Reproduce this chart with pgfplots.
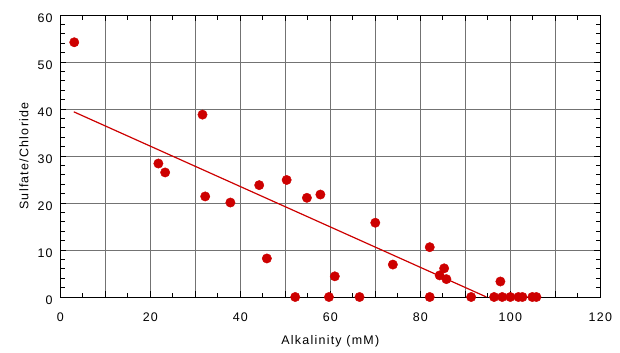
\documentclass[border=0pt]{standalone}
\usepackage{fontspec}
\setmainfont{Liberation Sans}[LetterSpace=10]
\usepackage{pgfplots}
\pgfplotsset{compat=1.18}
\definecolor{dotred}{RGB}{205,0,0}
\definecolor{gridgray}{RGB}{115,115,115}
\begin{document}
\begin{tikzpicture}
\begin{axis}[
  at={(0,0)}, anchor=south west,
  scale only axis, width=540bp, height=282bp,
  xmin=0, xmax=120, ymin=0, ymax=60,
  xtick={0,10,...,120},
  xticklabels={0,,20,,40,,60,,80,,100,,120},
  ytick={0,10,...,60},
  minor x tick num=1,
  minor y tick num=4,
  tick align=inside,
  major tick length=6bp,
  minor tick length=4.5bp,
  every tick/.style={black, line width=0.8bp},
  xmajorgrids, ymajorgrids,
  major grid style={gridgray, line width=0.8bp},
  axis line style={black, line width=1bp},
  clip=false,
  /pgf/number format/assume math mode=true,
  tick label style={font=\fontsize{12.5}{14}\selectfont},
  xticklabel style={anchor=base, yshift=-24.5bp},
  yticklabel style={anchor=east, inner sep=0pt, xshift=-7.5bp, yshift=-3bp},
  label style={font=\fontsize{12.5}{14}\selectfont},
  xlabel={Alkalinity (mM)},
  ylabel={Sulfate/Chloride},
  xlabel style={at={(axis description cs:0.5,0)}, anchor=base, yshift=-47bp},
  ylabel style={at={(axis description cs:0,0.5)}, anchor=base, yshift=32bp},
]
\addplot[dotred, line width=1.2bp, no markers] coordinates {(3.0,39.4) (94.7,0)};
\addplot[only marks, color=dotred, mark=*, mark size=4.7bp, mark options={fill=dotred, draw=none}] coordinates {
(3.1,54.2) (21.8,28.4) (23.3,26.5) (31.6,38.8) (32.2,21.4) (37.8,20.1)
(44.2,23.8) (45.9,8.2) (50.3,24.9) (52.2,0) (54.8,21.1) (57.8,21.8)
(59.7,0) (61.0,4.4) (66.5,0) (70.0,15.8) (73.9,6.9) (82.1,10.6)
(82.1,0) (84.3,4.6) (85.3,6.1) (85.8,3.8) (91.3,0) (96.4,0)
(97.8,3.3) (98.2,0) (100.0,0) (101.8,0) (102.7,0) (104.9,0) (105.8,0)
};
\end{axis}
\pgfresetboundingbox
\path[use as bounding box] (-60.3bp,-56bp) rectangle (559.7bp,297bp);
\end{tikzpicture}
\end{document}
